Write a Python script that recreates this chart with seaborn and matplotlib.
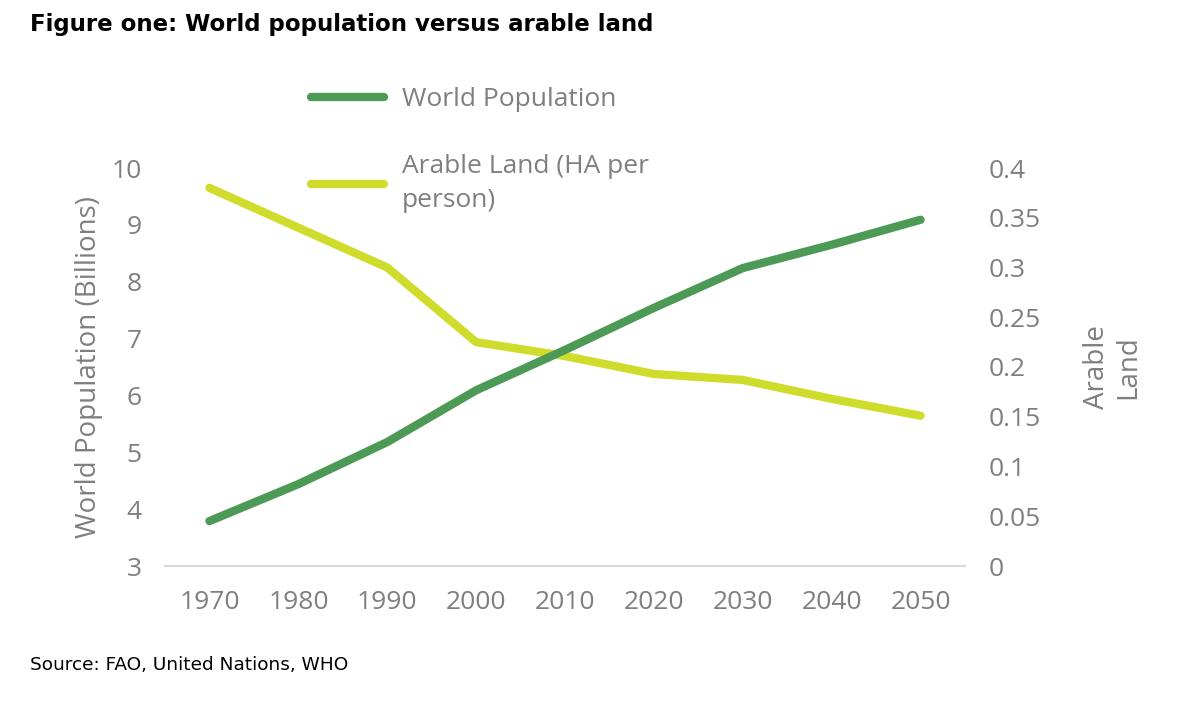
import matplotlib
matplotlib.use("Agg")
import matplotlib.pyplot as plt
import seaborn as sns
import pandas as pd
import numpy as np
from matplotlib.ticker import FixedLocator, FuncFormatter

# ---- data ----
years = [1970, 1980, 1990, 2000, 2010, 2020, 2030, 2040, 2050]
world_population = [3.79, 4.44, 5.18, 6.09, 6.80, 7.54, 8.24, 8.65, 9.09]
arable_land = [0.380, 0.340, 0.300, 0.225, 0.211, 0.193, 0.187, 0.168, 0.151]
left_ticks = [3, 4, 5, 6, 7, 8, 9, 10]
right_ticks = [0, 0.05, 0.1, 0.15, 0.2, 0.25, 0.3, 0.35, 0.4]
series_names = ["World Population", "Arable Land (HA per\nperson)"]

df = pd.DataFrame({"year": years, "pop": world_population, "land": arable_land})

sns.set_theme(style="white")
plt.rcParams["font.family"] = ["Open Sans", "DejaVu Sans"]

GREEN = "#4c9a56"
YELLOW = "#cfdc2c"
GREY = "#7f7f7f"
FS = 19

fig = plt.figure(figsize=(12, 7.03), dpi=100)
ax = fig.add_axes([165 / 1200, 1 - 566 / 703, 800 / 1200, (566 - 168) / 703])
ax2 = ax.twinx()

sns.lineplot(data=df, x="year", y="pop", ax=ax, color=GREEN, linewidth=6,
             solid_capstyle="round", label=series_names[0], legend=False)
sns.lineplot(data=df, x="year", y="land", ax=ax2, color=YELLOW, linewidth=6,
             solid_capstyle="round", label=series_names[1], legend=False)
ax.set_zorder(ax2.get_zorder() + 1)
ax.patch.set_visible(False)

ax.set_xlim(1965, 2055)
ax.set_ylim(3, 10)
ax2.set_ylim(0, 0.4)
ax.xaxis.set_major_locator(FixedLocator(years))
ax.yaxis.set_major_locator(FixedLocator(left_ticks))
ax2.yaxis.set_major_locator(FixedLocator(right_ticks))
ax2.yaxis.set_major_formatter(FuncFormatter(lambda v, p: f"{v:g}"))

for a in (ax, ax2):
    for s in a.spines.values():
        s.set_visible(False)
    a.tick_params(length=0, labelsize=FS, labelcolor=GREY)
    a.grid(False)
ax.spines["bottom"].set_visible(True)
ax.spines["bottom"].set_color("#d9d9d9")
ax.spines["bottom"].set_linewidth(1.5)
ax.tick_params(axis="x", pad=17)
ax.tick_params(axis="y", pad=17)
ax2.tick_params(axis="y", pad=17)

ax.set_xlabel("")
ax.set_ylabel("World Population (Billions)", fontsize=FS + 1, color=GREY, labelpad=6)
ax2.set_ylabel("Arable\nLand", fontsize=FS + 1, color=GREY, rotation=90,
               labelpad=30, multialignment="center", linespacing=1.2)

h1, l1 = ax.get_legend_handles_labels()
h2, l2 = ax2.get_legend_handles_labels()
leg = fig.legend(h1 + h2, l1 + l2, loc="upper left",
                 bbox_to_anchor=(311 / 1200, 1 - 87 / 703), frameon=False,
                 fontsize=FS, labelcolor=GREY, handlelength=2.75, handletextpad=0.7,
                 labelspacing=1.6, borderpad=0, borderaxespad=0)
for t in leg.get_texts():
    t.set_linespacing(1.45)

fig.text(30 / 1200, 1 - 24 / 703, "Figure one: World population versus arable land",
         fontsize=16.5, fontweight="bold", color="black", va="center", ha="left",
         family=["DejaVu Sans"])
fig.text(30 / 1200, 1 - 665 / 703, "Source: FAO, United Nations, WHO",
         fontsize=13.3, color="black", va="center", ha="left", family=["DejaVu Sans"])

fig.savefig("out.png", dpi=100, facecolor="white")
